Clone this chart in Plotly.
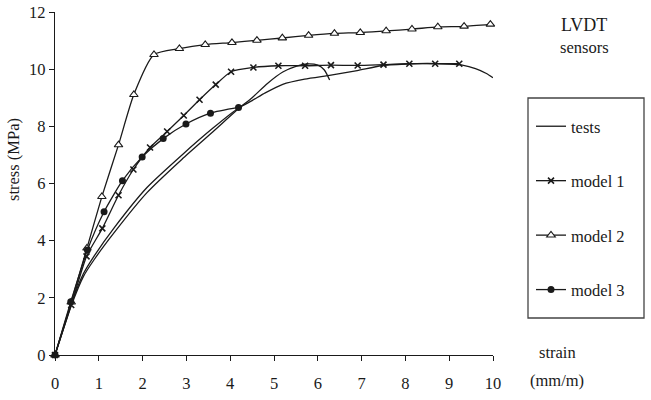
import plotly.graph_objects as go

# ---- data ----
test1_x = [0, 0.37, 0.65, 0.9, 1.35, 2.1, 2.9, 3.6, 4.2, 4.5, 4.85, 5.2, 5.5, 5.75, 6.0, 6.15, 6.27]
test1_y = [0, 1.72, 2.75, 3.35, 4.28, 5.68, 6.85, 7.8, 8.63, 9.0, 9.5, 9.9, 10.1, 10.18, 10.14, 9.97, 9.62]

test2_x = [0, 0.37, 0.65, 0.9, 1.35, 2.1, 2.9, 3.6, 4.2, 4.5, 4.8, 5.2, 5.7, 6.3, 6.9, 7.45, 8.0, 8.5, 9.0, 9.3, 9.6, 9.85, 10.0]
test2_y = [0, 1.78, 2.85, 3.48, 4.45, 5.86, 7.0, 7.93, 8.65, 8.9, 9.17, 9.47, 9.65, 9.79, 9.95, 10.12, 10.18, 10.2, 10.18, 10.14, 10.02, 9.85, 9.7]

model1_x = [0, 0.37, 0.72, 1.08, 1.45, 1.79, 2.17, 2.56, 2.94, 3.30, 3.67, 4.02, 4.53, 5.10, 5.71, 6.30, 6.91, 7.50, 8.09, 8.68, 9.23]
model1_y = [0, 1.75, 3.45, 4.43, 5.59, 6.49, 7.26, 7.82, 8.38, 8.93, 9.46, 9.91, 10.06, 10.12, 10.12, 10.14, 10.13, 10.16, 10.19, 10.19, 10.19]

model2_x = [0, 0.37, 0.73, 1.07, 1.45, 1.80, 2.26, 2.84, 3.43, 4.04, 4.61, 5.19, 5.79, 6.38, 6.97, 7.56, 8.15, 8.74, 9.34, 9.94]
model2_y = [0, 1.85, 3.74, 5.54, 7.35, 9.11, 10.51, 10.72, 10.86, 10.93, 11.01, 11.09, 11.18, 11.25, 11.28, 11.34, 11.40, 11.48, 11.50, 11.57]

model3_x = [0, 0.36, 0.74, 1.12, 1.54, 1.99, 2.47, 2.99, 3.55, 4.19]
model3_y = [0, 1.86, 3.67, 5.01, 6.10, 6.93, 7.57, 8.08, 8.46, 8.66]

x_ticks = [0, 1, 2, 3, 4, 5, 6, 7, 8, 9, 10]
y_ticks = [0, 2, 4, 6, 8, 10, 12]

FONT = "Liberation Serif, Times New Roman, serif"
INK = "#1a1a1a"
FS = 16.5

fig = go.Figure()

line = dict(color=INK, width=1.3, shape="spline", smoothing=0.6)

fig.add_trace(go.Scatter(x=test1_x, y=test1_y, mode="lines", name="tests",
                         legendgroup="tests", line=line, cliponaxis=False))
fig.add_trace(go.Scatter(x=test2_x, y=test2_y, mode="lines", name="tests",
                         legendgroup="tests", showlegend=False, line=line, cliponaxis=False))
fig.add_trace(go.Scatter(x=model1_x, y=model1_y, mode="lines+markers", name="model 1",
                         legendgroup="m1", line=line, cliponaxis=False,
                         marker=dict(symbol="x-thin", size=6, color=INK,
                                     line=dict(color=INK, width=1.6))))
fig.add_trace(go.Scatter(x=model2_x, y=model2_y, mode="lines+markers", name="model 2",
                         legendgroup="m2", line=line, cliponaxis=False,
                         marker=dict(symbol="triangle-up", size=7.5, color="white",
                                     line=dict(color=INK, width=1.1))))
fig.add_trace(go.Scatter(x=model3_x, y=model3_y, mode="lines+markers", name="model 3",
                         legendgroup="m3", line=line, cliponaxis=False,
                         marker=dict(symbol="circle", size=7, color=INK)))

L, R, T, B = 55, 158, 12, 45
W, H = 651, 400
pw, ph = W - L - R, H - T - B

def px(xp):
    return (xp - L) / pw

def py(yp):
    return (H - B - yp) / ph

fig.update_layout(
    width=W, height=H,
    margin=dict(l=L, r=R, t=T, b=B, autoexpand=False),
    paper_bgcolor="white", plot_bgcolor="white",
    font=dict(family=FONT, size=FS, color=INK),
    showlegend=True,
    legend=dict(x=px(531), y=py(109), xanchor="left", yanchor="top",
                bgcolor="rgba(0,0,0,0)", borderwidth=0,
                font=dict(family=FONT, size=FS, color=INK),
                traceorder="grouped", tracegroupgap=30, itemwidth=30),
    xaxis=dict(range=[0, 10], tickvals=x_ticks, ticktext=[str(v) for v in x_ticks],
               showgrid=False, zeroline=False, showline=True, linecolor=INK, linewidth=1.2,
               ticks="outside", ticklen=5, tickcolor=INK, tickwidth=1.2, automargin=False,
               ticklabelstandoff=8,
               tickfont=dict(family=FONT, size=FS, color=INK)),
    yaxis=dict(range=[0, 12], tickvals=y_ticks, ticktext=[str(v) for v in y_ticks],
               showgrid=False, zeroline=False, showline=True, linecolor=INK, linewidth=1.2,
               ticks="outside", ticklen=5, tickcolor=INK, tickwidth=1.2, automargin=False,
               tickfont=dict(family=FONT, size=FS, color=INK)),
)

fig.add_shape(type="rect", xref="paper", yref="paper",
              x0=px(528), x1=px(644), y0=py(318), y1=py(98),
              line=dict(color="#444", width=1.3), fillcolor="rgba(0,0,0,0)")

ann = [
    ("LVDT", 584, 25, 18, 0),
    ("sensors", 584, 47, FS, 0),
    ("strain", 557, 352, FS, 0),
    ("(mm/m)", 557, 380, FS, 0),
    ("stress (MPa)", 13, 160, FS, -90),
]
for text, xp, yp, size, ang in ann:
    fig.add_annotation(text=text, xref="paper", yref="paper", x=px(xp), y=py(yp),
                       xanchor="center", yanchor="middle", showarrow=False,
                       textangle=ang, font=dict(family=FONT, size=size, color=INK))

fig.write_html("out.html")
